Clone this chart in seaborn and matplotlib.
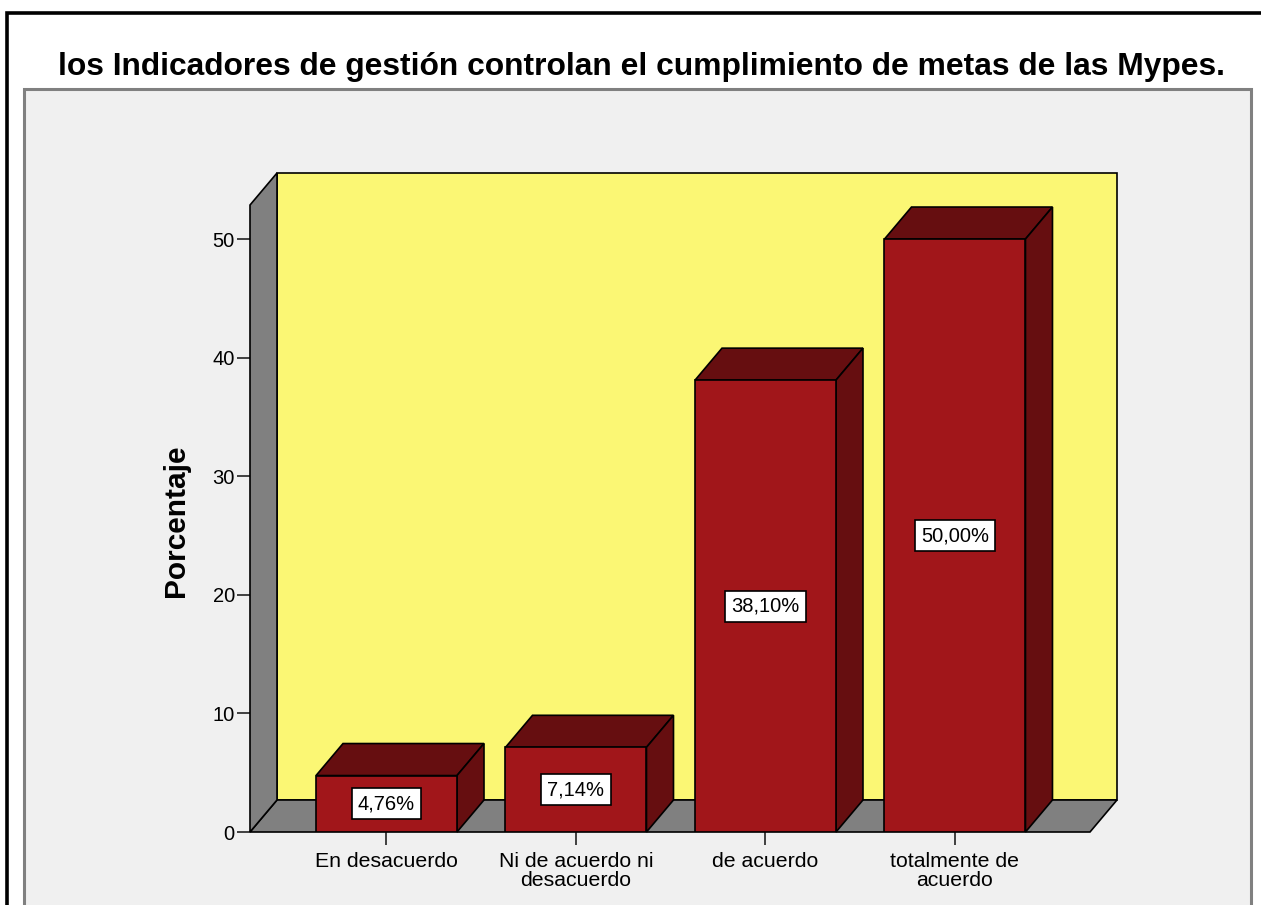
import matplotlib
matplotlib.use("Agg")
import matplotlib.pyplot as plt
from matplotlib.patches import Polygon, Rectangle
import seaborn as sns
import pandas as pd

categories = ["En desacuerdo", "Ni de acuerdo ni\ndesacuerdo", "de acuerdo", "totalmente de\nacuerdo"]
values = [4.76, 7.14, 38.10, 50.00]
yticks = [0, 10, 20, 30, 40, 50]
title = "los Indicadores de gestión controlan el cumplimiento de metas de las Mypes."
ylabel = "Porcentaje"

FRONT = "#A1161A"
DARK = "#660E10"
YELLOW = "#FBF774"
GRAY = "#808080"
BG = "#F0F0F0"

sns.set_style("white")
plt.rcParams["font.family"] = ["Liberation Sans", "DejaVu Sans"]
plt.rcParams["text.color"] = "black"
plt.rcParams["axes.labelcolor"] = "black"
plt.rcParams["xtick.color"] = "black"
plt.rcParams["ytick.color"] = "black"

W, H = 1261, 905
fig = plt.figure(figsize=(W / 100, H / 100), dpi=100)
fig.patch.set_facecolor("white")

# frames
fig.patches.append(Rectangle((24 / W, -0.05), (1251 - 24) / W, (H - 89) / H + 0.05,
                             transform=fig.transFigure, facecolor=BG, edgecolor=GRAY,
                             linewidth=2.2, zorder=-2))
fig.patches.append(Rectangle((6.5 / W, -0.05), 1.1, (H - 13) / H + 0.05,
                             transform=fig.transFigure, facecolor="none", edgecolor="black",
                             linewidth=2.6, zorder=-2))

left, right, bottom, top = 250, 1117, 832, 173
ax = fig.add_axes([left / W, 1 - bottom / H, (right - left) / W, (bottom - top) / H])
ax.set_facecolor("none")

df = pd.DataFrame({"cat": categories, "val": values})
bw = 0.744
sns.barplot(data=df, x="cat", y="val", color=FRONT, saturation=1, width=bw,
            edgecolor="black", linewidth=1.2, ax=ax, zorder=5)

x0, x1 = -0.7203, 3.855
y1 = 55.57
dx, dy = 0.1425, 2.70
ax.set_xlim(x0, x1)
ax.set_ylim(0, y1)
fx1 = x1 - dx  # front right
fy1 = y1 - dy  # front top

kw = dict(edgecolor="black", linewidth=1.2, joinstyle="miter")
# back wall
ax.add_patch(Polygon([(x0 + dx, dy), (x1, dy), (x1, y1), (x0 + dx, y1)], closed=True,
                     facecolor=YELLOW, zorder=1, clip_on=False, **kw))
# floor
ax.add_patch(Polygon([(x0, 0), (fx1, 0), (x1, dy), (x0 + dx, dy)], closed=True,
                     facecolor=GRAY, zorder=1, clip_on=False, **kw))
# left wall
ax.add_patch(Polygon([(x0, 0), (x0, fy1), (x0 + dx, y1), (x0 + dx, dy)], closed=True,
                     facecolor=GRAY, zorder=1, clip_on=False, **kw))

for bar in list(ax.containers[0]):
    bx0 = bar.get_x()
    bx1 = bx0 + bar.get_width()
    h = bar.get_height()
    ax.add_patch(Polygon([(bx0, h), (bx1, h), (bx1 + dx, h + dy), (bx0 + dx, h + dy)], closed=True,
                         facecolor=DARK, zorder=4, clip_on=False, **kw))
    ax.add_patch(Polygon([(bx1, 0), (bx1, h), (bx1 + dx, h + dy), (bx1 + dx, dy)], closed=True,
                         facecolor=DARK, zorder=4, clip_on=False, **kw))
    ax.text(bx0 + bar.get_width() / 2, h / 2, f"{h:.2f}%".replace(".", ","),
            ha="center", va="center", fontsize=14.5, zorder=6,
            bbox=dict(boxstyle="square,pad=0.3", facecolor="white", edgecolor="black", linewidth=1.2))

for s in ax.spines.values():
    s.set_visible(False)
ax.set_yticks(yticks)
ax.set_yticklabels([str(t) for t in yticks])
ax.tick_params(axis="both", direction="out", length=9.4, width=1.2, color="#222222",
               labelsize=14.5, left=True, bottom=True, pad=1.5)
ax.tick_params(axis="x", pad=5, labelsize=15.3)
for lab in ax.get_xticklabels():
    lab.set_linespacing(1.02)
ax.set_xlabel("")
ax.set_ylabel(ylabel, fontsize=21.5, fontweight="bold")
ax.yaxis.set_label_coords((190 - left) / (right - left), (bottom - 521) / (bottom - top))

fig.text(641 / W, 1 - 67.5 / H, title, ha="center", va="center", fontsize=22.9, fontweight="bold")

fig.savefig("out.png", dpi=100, facecolor="white")
